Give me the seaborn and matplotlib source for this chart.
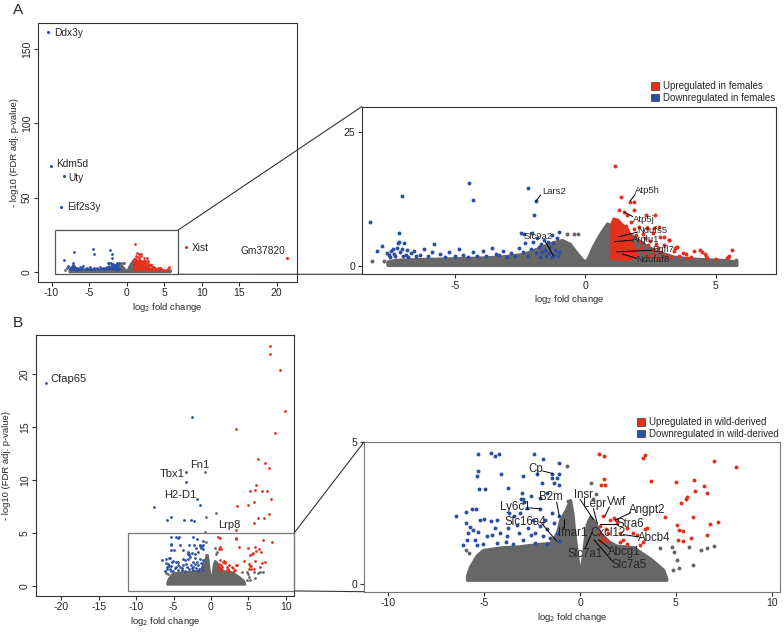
import matplotlib
matplotlib.use('Agg')
import matplotlib.pyplot as plt
import seaborn as sns
from matplotlib.patches import Rectangle, Patch, ConnectionPatch

sns.set_style('ticks')
plt.rcParams['font.family'] = ['Liberation Sans', 'DejaVu Sans']
plt.rcParams['axes.unicode_minus'] = False

RED = '#E2311F'
BLUE = '#2C4FA4'
GREY = '#676767'
LINE = '#333333'

# ---------------- Panel A data (females vs males) ----------------
# named outliers shown only in the full view
a_out_x = [-10.5, -10.1, -8.36, -8.8, 7.9, 21.4]
a_out_y = [161.7, 71.6, 64.6, 43.5, 16.9, 9.5]
a_out_col = [BLUE, BLUE, BLUE, BLUE, RED, RED]

# upper edge of the dense grey cloud
a_grey_x = [-7.6, -7.3, -6.5, -5.5, -4.3, -3.3, -2.4, -1.75, -1.25, -0.9, -0.6, -0.35, -0.15, 0.0,
            0.12, 0.3, 0.58, 0.83, 1.1, 1.5, 1.9, 2.3, 2.65, 3.0, 3.4, 4.0, 4.7, 5.3, 5.8]
a_grey_top = [0.9, 1.2, 1.35, 1.45, 1.6, 1.8, 2.3, 3.5, 4.5, 4.9, 4.2, 2.6, 1.4, 0.85,
              1.8, 3.8, 6.2, 8.0, 7.4, 6.6, 5.4, 4.0, 3.0, 2.4, 1.8, 1.5, 1.3, 1.2, 0.9]
a_grey_bottom = 0.25
a_grey_pts_x = [-8.2, -7.73, -0.7, -0.45, -0.3, 5.5, 5.77]
a_grey_pts_y = [1.05, 0.9, 6.1, 6.05, 6.1, 0.9, 1.2]

a_blue_x = [-8.29, -7.03, -7.14, -4.46, -4.33, -2.21, -1.90, -1.99, -2.49, -2.37, -2.04, -1.02, -1.3,
            -7.99, -7.82, -7.6, -7.55, -7.5, -7.45, -7.4, -7.35, -7.3, -7.25, -7.2, -7.15, -7.1, -7.05,
            -7.0, -6.95, -6.9, -6.85, -6.8, -6.7, -6.6, -6.5, -6.35, -6.2, -6.05, -5.9, -5.8, -5.6,
            -5.4, -5.25, -5.0, -4.85, -4.7, -4.5, -4.3, -4.15, -3.95, -3.8, -3.6, -3.45, -3.3, -3.15,
            -3.0, -2.85, -2.7, -2.55, -2.4, -2.3, -2.2, -2.1, -2.0, -1.9, -1.85, -1.8, -1.75, -1.7,
            -1.65, -1.6, -1.55, -1.5, -1.45, -1.4, -1.35, -1.3, -1.25, -1.2, -1.15, -1.1, -1.05, -1.0]
a_blue_y = [8.3, 13.2, 6.3, 15.6, 12.4, 14.7, 12.2, 9.6, 6.2, 6.1, 6.3, 6.4, 5.9,
            2.9, 3.8, 2.5, 2.1, 1.8, 2.9, 3.3, 2.3, 2.0, 3.5, 4.3, 4.5, 2.6, 3.3,
            1.9, 4.4, 2.2, 3.0, 1.7, 2.4, 2.9, 1.9, 2.2, 3.3, 1.9, 2.6, 4.1, 2.3,
            1.8, 2.6, 2.0, 3.2, 2.2, 1.8, 2.7, 2.0, 2.8, 1.9, 3.5, 2.3, 2.1, 2.8,
            1.8, 2.4, 2.0, 3.5, 2.6, 4.4, 1.9, 3.2, 4.5, 2.4, 5.3, 3.6, 1.8, 4.2,
            2.7, 5.0, 3.1, 2.0, 4.6, 2.5, 3.7, 1.7, 4.3, 2.2, 3.0, 5.2, 1.9, 2.6]

# dense red core outline and the scattered red points
a_red_core_x = [1.02, 1.02, 1.1, 1.25, 1.4, 1.6, 1.75, 1.85, 1.9, 1.7, 1.3]
a_red_core_y = [1.4, 8.0, 8.8, 8.6, 7.8, 7.0, 5.5, 3.5, 1.8, 1.3, 1.3]
a_red_x = [1.12, 1.37, 1.70, 1.86, 1.28, 1.5, 1.86, 2.33, 1.6, 2.82, 2.69, 2.35, 2.63, 3.0, 3.2, 3.44,
           3.52, 3.85, 4.06, 4.17, 4.4, 4.49, 4.6, 4.65, 4.68, 5.0, 5.42, 5.47, 5.5, 5.62,
           1.55, 1.62, 1.7, 1.75, 1.8, 1.85, 1.9, 1.95, 2.0, 2.05, 2.1, 2.15, 2.2, 2.25, 2.3,
           2.35, 2.4, 2.45, 2.5, 2.55, 2.6, 2.65, 2.7, 2.75, 2.8, 2.85, 2.9, 2.95, 3.0, 3.1,
           3.2, 3.3, 3.4, 3.5, 3.6, 3.75, 3.9]
a_red_y = [18.8, 13.0, 12.05, 12.05, 10.5, 10.1, 10.5, 9.6, 9.6, 7.4, 9.6, 7.1, 7.2, 5.5, 4.9, 3.5,
           3.65, 2.3, 1.8, 2.9, 3.0, 2.7, 2.3, 2.0, 1.5, 1.3, 1.5, 1.8, 1.9, 3.1,
           7.6, 6.5, 5.4, 8.2, 4.3, 6.9, 3.2, 5.8, 2.2, 7.4, 4.6, 3.6, 6.1, 2.6, 5.2,
           7.1, 3.9, 1.9, 4.8, 3.0, 6.3, 2.3, 4.1, 1.6, 3.4, 5.4, 2.6, 1.8, 3.9, 2.2,
           4.9, 1.7, 2.9, 3.6, 1.9, 2.4, 1.5]

# ---------------- Panel B data (wild-derived vs classical) ----------------
b_out_blue_x = [-22.1, -2.54, -3.3, -3.3, -1.83, -1.5, -7.57, -5.3, -5.9, -3.65, -2.67, -2.2]
b_out_blue_y = [19.2, 15.9, 10.7, 9.76, 8.16, 7.6, 7.4, 6.5, 6.2, 6.2, 6.2, 6.14]
b_out_red_x = [7.93, 7.93, 9.18, 9.84, 8.6, 3.34, 6.28, 7.26, 7.8, 6.06, 5.83, 5.26, 6.8, 7.48,
               8.0, 5.75, 3.47, 4.9, 7.8, 6.24, 7.1, 5.8, 3.4]
b_out_red_y = [22.7, 21.9, 20.4, 16.5, 14.4, 14.8, 12.0, 11.6, 11.1, 9.5, 9.0, 8.95, 8.98, 8.95,
               8.2, 7.9, 7.5, 7.6, 6.8, 6.4, 6.4, 5.9, 5.3]
b_out_grey_x = [-0.76, 0.71, -0.67, -0.76]
b_out_grey_y = [10.7, 6.9, 6.5, 5.1]

b_grey_x = [-5.9, -5.74, -5.4, -5.06, -4.0, -3.3, -2.3, -1.56, -1.2, -1.04, -0.75, -0.52, -0.4, -0.3,
            -0.15, 0.0, 0.12, 0.25, 0.35, 0.52, 0.75, 1.04, 1.5, 1.9, 2.77, 3.2, 3.65, 4.0, 4.34, 4.5]
b_grey_top = [0.3, 0.61, 1.0, 1.2, 1.3, 1.32, 1.4, 1.45, 1.8, 2.26, 2.6, 2.96, 2.5, 1.8,
              1.0, 0.2, 0.9, 1.6, 2.1, 2.37, 2.2, 1.8, 1.5, 1.35, 1.3, 1.1, 0.9, 0.7, 0.5, 0.2]
b_grey_bottom = 0.15
b_grey_pts_x = [-0.70, 0.59, 0.83, -0.61, -0.52, -0.75, -0.64, 4.17, 4.78, 4.90, 5.70, 5.91, 6.30,
                6.61, 6.99, 5.08, 5.17, 4.87, 3.65, 3.83, -5.77, -5.30, -5.95, 0.7]
b_grey_pts_y = [4.14, 3.54, 3.18, 2.92, 2.65, 2.29, 2.13, 1.27, 1.29, 1.13, 1.29, 0.68, 1.21,
                1.26, 1.33, 0.86, 0.56, 0.51, 0.86, 0.62, 1.09, 0.35, 1.21, 3.0]

b_blue_x = [-5.34, -4.66, -4.43, -4.23, -2.38, -1.93, -1.08, -5.34, -5.36, -4.12, -2.99, -2.26, -1.44,
            -1.10, -1.22, -1.48, -1.97, -1.36, -1.10, -5.29, -4.96, -3.77, -3.10, -2.96, -2.57,
            -2.09, -1.74, -2.9, -5.65, -5.43, -5.97, -6.49, -5.95, -5.74, -5.57, -5.30, -5.83,
            -5.91, -5.48, -5.01, -5.22, -4.66, -4.35, -4.43, -4.87, -4.61, -4.17, -3.83, -3.74,
            -3.69, -3.44, -3.30, -3.17, -2.96, -2.70, -2.57, -2.43, -2.35, -2.09, -1.95, -1.83,
            -1.70, -1.57, -1.48, -1.34, -1.22, -1.08, -1.10, -3.13, -2.78, -2.09, -3.88, -3.48,
            -4.35, -5.04, -5.39, -6.09, -2.35, -1.74, -3.04]
b_blue_y = [4.56, 4.60, 4.51, 4.59, 4.56, 4.41, 4.25, 3.98, 3.82, 3.86, 3.81, 3.86, 3.89,
            3.86, 3.72, 3.72, 3.56, 3.54, 3.48, 3.33, 3.35, 3.39, 3.01, 3.01, 3.09,
            3.04, 3.21, 2.88, 2.65, 2.65, 2.53, 2.39, 2.15, 2.01, 1.89, 1.82, 1.80,
            1.54, 1.56, 2.29, 2.27, 2.21, 2.27, 1.98, 1.68, 1.74, 1.80, 1.68, 1.98,
            2.51, 2.39, 2.09, 1.80, 1.56, 1.98, 1.71, 2.27, 1.80, 2.04, 1.68, 2.27,
            1.94, 1.62, 2.51, 2.15, 1.80, 1.51, 2.39, 2.51, 2.68, 2.65, 1.47, 1.42,
            1.45, 1.42, 1.39, 1.38, 1.45, 1.42, 3.21]

b_red_x = [0.99, 1.23, 3.29, 3.39, 6.99, 8.12, 1.25, 1.08, 1.30, 3.70, 4.99, 5.95, 6.47, 6.00,
           6.63, 5.57, 5.51, 5.27, 5.91, 4.43, 7.20, 6.78, 5.04, 5.17, 5.36, 6.61, 5.81, 5.13,
           5.39, 1.77, 1.88, 1.18, 1.04, 0.96, 1.22, 1.39, 1.08, 1.48, 1.36, 2.78, 2.96, 3.39,
           3.51, 2.09, 2.43, 3.13, 3.27, 2.09, 2.43, 1.91, 1.57, 1.13, 2.26]
b_red_y = [4.59, 4.51, 4.42, 4.54, 4.34, 4.12, 3.68, 3.48, 3.48, 3.62, 3.60, 3.66, 3.46, 3.29,
           3.20, 3.08, 3.01, 2.86, 2.36, 2.35, 2.19, 2.11, 2.07, 1.89, 1.86, 1.73, 1.61, 1.56,
           1.53, 2.33, 2.24, 2.39, 2.04, 1.80, 1.59, 1.51, 1.47, 1.80, 1.92, 1.79, 1.71, 1.92,
           1.98, 1.47, 1.42, 1.39, 1.47, 1.80, 1.98, 2.15, 2.27, 1.74, 1.56]

# gene labels: (text, text x, text y, ha) and for the zooms (text, x, y, leader from, leader to)
a_full_labels = [('Ddx3y', -9.69, 161, 'left'), ('Kdm5d', -9.42, 72.5, 'left'),
                 ('Uty', -7.78, 63.5, 'left'), ('Eif2s3y', -7.87, 43.5, 'left'),
                 ('Xist', 8.67, 16.4, 'left'), ('Gm37820', 21.2, 14.2, 'right')]
a_zoom_labels = [('Lars2', -1.67, 13.9, (-1.90, 12.2), (-1.72, 13.3)),
                 ('Atp5h', 1.92, 14.2, (1.72, 12.2), (1.92, 13.5)),
                 ('Atp5j', 1.82, 8.8, (1.5, 10.1), (1.82, 9.3)),
                 ('Ndufs5', 2.01, 6.65, (1.28, 5.5), (2.01, 6.4)),
                 ('Arglu1', 1.8, 5.0, (1.12, 4.6), (1.8, 4.9)),
                 ('Egfl7', 2.56, 3.2, (1.19, 2.7), (2.56, 3.0)),
                 ('Ndufaf8', 1.97, 1.3, (1.41, 2.3), (1.97, 1.5)),
                 ('Slc9a2', -2.37, 5.5, (-1.22, 1.9), (-1.54, 4.6))]
b_full_labels = [('Cfap65', -21.5, 19.5, 'left'), ('Tbx1', -5.18, 10.6, 'center'),
                 ('Fn1', -1.52, 11.4, 'center'), ('H2-D1', -4.1, 8.57, 'center'),
                 ('Lrp8', 2.5, 5.73, 'center')]
b_zoom_labels = [('Cp', -2.31, 4.04, (-1.43, 3.89), (-1.95, 3.98)),
                 ('B2m', -1.51, 3.06, (-1.08, 2.39), (-1.22, 2.88)),
                 ('Ly6c1', -3.39, 2.72, (-2.09, 2.65), (-2.61, 2.68)),
                 ('Slc16a4', -2.83, 2.19, (-1.22, 1.51), (-2.0, 2.13)),
                 ('Ifnar1', -0.4, 1.78, (-0.83, 2.29), (-0.83, 1.98)),
                 ('Insr', 0.2, 3.15, (0.7, 2.27), (0.0, 2.98)),
                 ('Lepr', 0.78, 2.8, (0.9, 2.13), (0.7, 2.65)),
                 ('Vwf', 1.91, 2.88, (1.3, 2.39), (1.53, 2.72)),
                 ('Angpt2', 3.48, 2.6, (1.83, 2.25), (2.64, 2.51)),
                 ('Stra6', 2.64, 2.13, (1.04, 2.13), (2.0, 2.13)),
                 ('Cxcl12', 1.48, 1.78, None, None),
                 ('Abcb4', 3.86, 1.62, (2.26, 1.74), (3.04, 1.66)),
                 ('Abcg1', 2.3, 1.13, (0.96, 1.56), (1.57, 1.24)),
                 ('Slc7a1', 0.26, 1.06, (0.61, 1.8), (0.26, 1.24)),
                 ('Slc7a5', 2.56, 0.68, (0.73, 1.56), (1.69, 0.8))]

W, H = 784, 634
fig = plt.figure(figsize=(W / 100, H / 100), dpi=100)


def px_axes(l, t, r, b):
    return fig.add_axes([l / W, 1 - b / H, (r - l) / W, (b - t) / H])


def style(ax, xticks, yticks, rot_y):
    for s in ax.spines.values():
        s.set_visible(True)
        s.set_color(LINE)
        s.set_linewidth(0.8)
    ax.set_xticks(xticks)
    ax.set_yticks(yticks)
    ax.tick_params(direction='out', length=3, width=0.8, color=LINE, labelsize=7.5, pad=1.5)
    if rot_y:
        for t in ax.get_yticklabels():
            t.set_rotation(90)
            t.set_va('center')
    ax.set_xlabel(r'log$_2$ fold change', fontsize=6.8, labelpad=2)


def cloud(ax, xs, top, bottom, lw):
    ax.fill_between(xs, bottom, top, facecolor=GREY, edgecolor=GREY, lw=lw, zorder=1)


def dots(ax, xs, ys, color, s):
    sns.scatterplot(x=xs, y=ys, ax=ax, color=color, s=s, linewidth=0, legend=False, zorder=3)


def panel_a(ax, s, lw):
    cloud(ax, a_grey_x, a_grey_top, a_grey_bottom, lw)
    dots(ax, a_grey_pts_x, a_grey_pts_y, GREY, s)
    dots(ax, a_blue_x, a_blue_y, BLUE, s)
    ax.fill(a_red_core_x, a_red_core_y, facecolor=RED, edgecolor=RED, lw=lw, zorder=2)
    dots(ax, a_red_x, a_red_y, RED, s)


def panel_b(ax, s, lw):
    cloud(ax, b_grey_x, b_grey_top, b_grey_bottom, lw)
    dots(ax, b_grey_pts_x, b_grey_pts_y, GREY, s)
    dots(ax, b_blue_x, b_blue_y, BLUE, s)
    dots(ax, b_red_x, b_red_y, RED, s)


# ---- A, full view ----
axA = px_axes(38, 23, 297, 282)
panel_a(axA, 4, 1.6)
for x, y, c in zip(a_out_x, a_out_y, a_out_col):
    dots(axA, [x], [y], c, 5)
axA.set_xlim(-11.8, 22.7)
axA.set_ylim(-6.7, 167.6)
style(axA, [-10, -5, 0, 5, 10, 15, 20], [0, 50, 100, 150], True)
axA.set_ylabel('- log10 (FDR adj. p-value)', fontsize=6.8)
axA.yaxis.set_label_coords(-0.072, 0.5)
for t, x, y, ha in a_full_labels:
    axA.text(x, y, t, fontsize=7.3, ha=ha, va='center')
axA.add_patch(Rectangle((-9.47, -1.5), 6.88 + 9.47, 28.3 + 1.5, fill=False,
                        edgecolor='#555555', lw=0.9, zorder=4))

# ---- A, zoomed ----
axAz = px_axes(361.7, 106.7, 776, 274.3)
panel_a(axAz, 8, 2.3)
axAz.set_xlim(-8.59, 7.32)
axAz.set_ylim(-1.49, 29.8)
style(axAz, [-5, 0, 5], [0, 25], False)
for t, x, y, p0, p1 in a_zoom_labels:
    axAz.text(x, y, t, fontsize=6.8, ha='left', va='center', zorder=6)
    axAz.plot([p0[0], p1[0]], [p0[1], p1[1]], color='black', lw=0.7, zorder=6)

for xyA, xyB in [((6.88, 28.3), (0, 1)), ((6.88, -1.5), (0, 0))]:
    fig.add_artist(ConnectionPatch(xyA=xyA, coordsA='data', axesA=axA,
                                   xyB=xyB, coordsB='axes fraction', axesB=axAz,
                                   color=LINE, lw=0.8))

fig.legend(handles=[Patch(facecolor=RED, edgecolor='#333333', lw=0.5, label='Upregulated in females'),
                    Patch(facecolor=BLUE, edgecolor='#333333', lw=0.5, label='Downregulated in females')],
           loc='upper left', bbox_to_anchor=(651 / W, 1 - 81 / H), frameon=False, fontsize=7,
           handlelength=0.85, handleheight=0.85, handletextpad=0.4, labelspacing=0.2, borderpad=0,
           borderaxespad=0)

# ---- B, full view ----
axB = px_axes(36, 335, 294.3, 595.7)
panel_b(axB, 4, 1.6)
dots(axB, b_out_grey_x, b_out_grey_y, GREY, 4)
dots(axB, b_out_blue_x, b_out_blue_y, BLUE, 4)
dots(axB, b_out_red_x, b_out_red_y, RED, 4)
axB.set_xlim(-23.4, 11.15)
axB.set_ylim(-0.95, 23.7)
style(axB, [-20, -15, -10, -5, 0, 5, 10], [0, 5, 10, 15, 20], True)
axB.set_ylabel('- log10 (FDR adj. p-value)', fontsize=6.8)
axB.yaxis.set_label_coords(-0.097, 0.5)
for t, x, y, ha in b_full_labels:
    axB.text(x, y, t, fontsize=8, ha=ha, va='center')
axB.add_patch(Rectangle((-11.1, -0.5), 11.15 + 11.1, 5.5, fill=False,
                        edgecolor='#777777', lw=0.9, zorder=4, clip_on=False))

# ---- B, zoomed ----
axBz = px_axes(364, 442, 780, 591.7)
panel_b(axBz, 8, 2.3)
axBz.set_xlim(-11.27, 10.43)
axBz.set_ylim(-0.27, 5.0)
style(axBz, [-10, -5, 0, 5, 10], [0, 5], False)
for sp in axBz.spines.values():
    sp.set_color('#777777')
for t, x, y, p0, p1 in b_zoom_labels:
    axBz.text(x, y, t, fontsize=8.3, ha='center', va='center', zorder=6)
    if p0 is not None:
        axBz.plot([p0[0], p1[0]], [p0[1], p1[1]], color='black', lw=0.7, zorder=6)

for xyA, xyB in [((11.15, 5.0), (0, 1)), ((11.15, -0.5), (0, 0.0))]:
    fig.add_artist(ConnectionPatch(xyA=xyA, coordsA='data', axesA=axB,
                                   xyB=xyB, coordsB='axes fraction', axesB=axBz,
                                   color=LINE, lw=0.8))

fig.legend(handles=[Patch(facecolor=RED, edgecolor='#333333', lw=0.5, label='Upregulated in wild-derived'),
                    Patch(facecolor=BLUE, edgecolor='#333333', lw=0.5, label='Downregulated in wild-derived')],
           loc='upper left', bbox_to_anchor=(637 / W, 1 - 417 / H), frameon=False, fontsize=7,
           handlelength=0.85, handleheight=0.85, handletextpad=0.4, labelspacing=0.2, borderpad=0,
           borderaxespad=0)

fig.text(13 / W, 1 - 10 / H, 'A', fontsize=11, ha='left', va='center')
fig.text(13 / W, 1 - 323 / H, 'B', fontsize=11, ha='left', va='center')

fig.savefig('out.png', dpi=100)
